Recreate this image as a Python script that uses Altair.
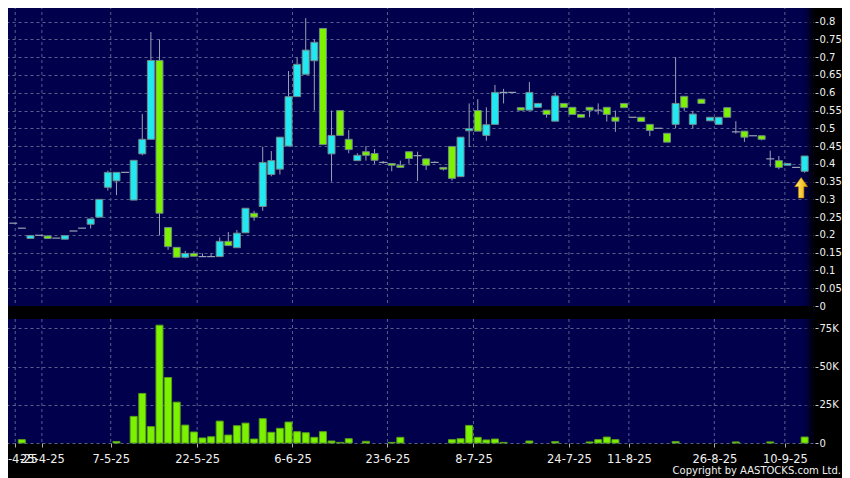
import altair as alt
import pandas as pd

# ---------------- data ----------------
idx = list(range(93))
opens = [0.233, 0.219, 0.190, 0.199, 0.197, 0.191, 0.188, 0.211, 0.219, 0.230,
         0.250, 0.334, 0.352, 0.376, 0.298, 0.428, 0.469, 0.691, 0.221, 0.165,
         0.137, 0.148, 0.139, 0.139, 0.139, 0.182, 0.164, 0.206, 0.261, 0.280,
         0.370, 0.385, 0.450, 0.589, 0.652, 0.690, 0.781, 0.428, 0.550, 0.469,
         0.409, 0.434, 0.429, 0.404, 0.401, 0.396, 0.434, 0.423, 0.414, 0.404,
         0.390, 0.449, 0.364, 0.493, 0.550, 0.480, 0.511, 0.601, 0.601, 0.558,
         0.551, 0.559, 0.551, 0.520, 0.570, 0.559, 0.539, 0.559, 0.551, 0.559,
         0.531, 0.570, 0.531, 0.531, 0.511, 0.500, 0.486, 0.511, 0.590, 0.511,
         0.582, 0.521, 0.511, 0.558, 0.490, 0.492, 0.479, 0.479, 0.414, 0.409,
         0.396, 0.390, 0.379]
closes = [0.233, 0.219, 0.198, 0.199, 0.190, 0.191, 0.198, 0.211, 0.219, 0.245,
          0.300, 0.376, 0.376, 0.376, 0.410, 0.469, 0.691, 0.261, 0.167, 0.137,
          0.148, 0.140, 0.139, 0.139, 0.182, 0.170, 0.205, 0.275, 0.250, 0.404,
          0.409, 0.475, 0.589, 0.680, 0.720, 0.742, 0.454, 0.480, 0.480, 0.440,
          0.424, 0.424, 0.410, 0.404, 0.396, 0.390, 0.415, 0.423, 0.396, 0.404,
          0.385, 0.359, 0.475, 0.499, 0.492, 0.510, 0.601, 0.601, 0.601, 0.551,
          0.601, 0.570, 0.539, 0.591, 0.559, 0.539, 0.531, 0.551, 0.551, 0.539,
          0.520, 0.558, 0.531, 0.519, 0.494, 0.500, 0.461, 0.570, 0.558, 0.540,
          0.570, 0.531, 0.531, 0.531, 0.490, 0.475, 0.479, 0.469, 0.414, 0.390,
          0.401, 0.390, 0.422]
highs = [0.233, 0.219, 0.200, 0.199, 0.199, 0.191, 0.199, 0.211, 0.219, 0.245,
         0.300, 0.381, 0.376, 0.376, 0.410, 0.540, 0.771, 0.750, 0.221, 0.165,
         0.155, 0.154, 0.148, 0.148, 0.193, 0.208, 0.214, 0.275, 0.268, 0.448,
         0.436, 0.475, 0.661, 0.700, 0.810, 0.750, 0.781, 0.550, 0.550, 0.495,
         0.430, 0.450, 0.442, 0.408, 0.401, 0.409, 0.434, 0.434, 0.414, 0.407,
         0.390, 0.449, 0.475, 0.570, 0.582, 0.559, 0.622, 0.611, 0.601, 0.558,
         0.630, 0.570, 0.551, 0.601, 0.570, 0.559, 0.539, 0.559, 0.570, 0.559,
         0.550, 0.570, 0.531, 0.531, 0.511, 0.500, 0.486, 0.700, 0.590, 0.549,
         0.582, 0.531, 0.531, 0.558, 0.520, 0.492, 0.479, 0.479, 0.437, 0.422,
         0.401, 0.390, 0.422]
lows = [0.233, 0.219, 0.189, 0.199, 0.190, 0.191, 0.188, 0.211, 0.219, 0.218,
        0.250, 0.325, 0.312, 0.376, 0.298, 0.424, 0.469, 0.199, 0.158, 0.137,
        0.134, 0.140, 0.139, 0.139, 0.139, 0.170, 0.164, 0.206, 0.240, 0.268,
        0.365, 0.370, 0.450, 0.589, 0.652, 0.550, 0.454, 0.350, 0.480, 0.430,
        0.409, 0.409, 0.400, 0.400, 0.379, 0.390, 0.400, 0.352, 0.383, 0.404,
        0.381, 0.353, 0.364, 0.447, 0.492, 0.465, 0.511, 0.570, 0.601, 0.551,
        0.551, 0.559, 0.530, 0.520, 0.559, 0.539, 0.531, 0.531, 0.539, 0.519,
        0.490, 0.558, 0.531, 0.519, 0.478, 0.500, 0.461, 0.500, 0.549, 0.500,
        0.570, 0.521, 0.511, 0.531, 0.485, 0.462, 0.479, 0.466, 0.392, 0.385,
        0.396, 0.390, 0.375]
volumes = [0, 2200, 0, 0, 0, 0, 0, 0, 0, 0,
           0, 0, 1000, 0, 17400, 32400, 10700, 77000, 42800, 26700,
           11700, 7200, 3300, 4100, 14300, 5200, 11300, 13000, 2600, 15900,
           7000, 9600, 13700, 7400, 6700, 3700, 7400, 1300, 400, 2800,
           0, 1100, 0, 0, 400, 3700, 0, 0, 0, 0,
           0, 2200, 2800, 11500, 3700, 2000, 2600, 400, 0, 0,
           1300, 0, 0, 900, 0, 0, 0, 700, 2200, 3900,
           2200, 0, 0, 0, 0, 0, 0, 900, 0, 0,
           0, 0, 0, 0, 700, 0, 0, 0, 700, 0,
           0, 0, 3900]

date_ticks = [0.23, 3.33, 11.33, 21.38, 32.46, 43.5, 53.5, 64.6, 71.57, 81.5, 89.7]
date_labels = ["24-4-25", "25-4-25", "7-5-25", "22-5-25", "6-6-25", "23-6-25",
               "8-7-25", "24-7-25", "11-8-25", "26-8-25", "10-9-25"]
price_ticks = [0, 0.05, 0.1, 0.15, 0.2, 0.25, 0.3, 0.35, 0.4, 0.45, 0.5,
               0.55, 0.6, 0.65, 0.7, 0.75, 0.8]
vol_ticks = [0, 25000, 50000, 75000]
vol_labels = ["0", "25K", "50K", "75K"]
copyright_text = ["Copyright by AASTOCKS.com Ltd."]

# ---------------- styling ----------------
NAVY = "#00004c"
GRID = "#56608e"
CYAN = "#22e8f2"
GREEN = "#7cf200"
EDGE = "#6f8888"
WICK = "#98a2b4"
TXT = "#f0f0f0"
FONT = "DejaVu Sans"

df = pd.DataFrame({"i": idx, "o": opens, "h": highs, "l": lows, "c": closes, "v": volumes})
df["kind"] = ["up" if c > o else ("down" if c < o else "flat") for o, c in zip(opens, closes)]
ticks_df = pd.DataFrame({"pos": date_ticks, "lab": date_labels})
text_df = pd.DataFrame({"t": copyright_text})

pos_js = "[" + ",".join(str(p) for p in date_ticks) + "]"
lab_js = "[" + ",".join("'" + s + "'" for s in date_labels) + "]"
vpos_js = "[" + ",".join(str(p) for p in vol_ticks) + "]"
vlab_js = "[" + ",".join("'" + s + "'" for s in vol_labels) + "]"

x_scale = alt.Scale(domain=[-0.494, 92.39], nice=False, zero=False)
x_axis = alt.Axis(values=date_ticks, labelExpr=f"{lab_js}[indexof({pos_js}, datum.value)]",
                  grid=False, domain=False, tickSize=4, tickColor="#b0b0b0",
                  labelColor=TXT, labelFontSize=11.5, labelFont=FONT, labelPadding=6,
                  labelOverlap=False, labelFlush=False, title=None)

yaxis_common = dict(orient="right", grid=True, gridColor=GRID, gridDash=[3, 3], gridWidth=1,
                    domain=False, tickSize=3, offset=2, labelPadding=1, tickColor="#c8c8c8",
                    labelColor=TXT, labelFontSize=10, labelFont=FONT,
                    labelOverlap=False, labelFlush=False, title=None)

p_scale = alt.Scale(domain=[0, 0.8441], range=[300, 0], nice=False, zero=False)
p_axis = alt.Axis(values=price_ticks, format="~g", **yaxis_common)

v_scale = alt.Scale(domain=[0, 81060], range=[437, 313], nice=False, zero=False)
v_axis = alt.Axis(values=vol_ticks,
                  labelExpr=f"{vlab_js}[indexof({vpos_js}, datum.value)]", **yaxis_common)

X = alt.X("i:Q", scale=x_scale, axis=x_axis)

# price panel
pgrid = alt.Chart(ticks_df).mark_rule(color=GRID, strokeDash=[3, 3], strokeWidth=1).encode(
    x=alt.X("pos:Q", scale=x_scale, axis=x_axis), y=alt.value(0), y2=alt.value(300))
wick = alt.Chart(df).transform_filter("datum.h > datum.l").mark_rule(
    color=WICK, strokeWidth=1).encode(x=X, y=alt.Y("l:Q", scale=p_scale, axis=p_axis), y2="h:Q")
body = alt.Chart(df).transform_filter("datum.kind != 'flat'").mark_bar(
    size=7, stroke=EDGE, strokeWidth=1).encode(
    x=X, y=alt.Y("o:Q", scale=p_scale, axis=p_axis), y2="c:Q",
    color=alt.Color("kind:N", scale=alt.Scale(domain=["up", "down"], range=[CYAN, GREEN]), legend=None))
flat = alt.Chart(df).transform_filter("datum.kind == 'flat'").transform_calculate(
    xl="datum.i - 0.46", xr="datum.i + 0.46").mark_rule(color=WICK, strokeWidth=1.2).encode(
    x=alt.X("xl:Q", scale=x_scale, axis=x_axis), x2="xr:Q",
    y=alt.Y("o:Q", scale=p_scale, axis=p_axis))
arrow_path = "M0,-1L0.64,-0.1L0.27,-0.1L0.27,1L-0.27,1L-0.27,-0.1L-0.64,-0.1Z"
arrow = alt.Chart(df.tail(1)).mark_point(
    shape=arrow_path, filled=True, size=420, yOffset=15, xOffset=-3.5,
    fill=alt.LinearGradient(gradient="linear", x1=0, x2=1, y1=0, y2=0,
                            stops=[alt.GradientStop(color="#fff07a", offset=0),
                                   alt.GradientStop(color="#f0a800", offset=1)]),
    stroke="#a87400", strokeWidth=0.6, opacity=1).encode(
    x=X, y=alt.Y("l:Q", scale=p_scale, axis=p_axis))
price = alt.layer(pgrid, wick, body, flat, arrow)

# volume panel
vgrid = alt.Chart(ticks_df).mark_rule(color=GRID, strokeDash=[3, 3], strokeWidth=1).encode(
    x=alt.X("pos:Q", scale=x_scale, axis=x_axis), y=alt.value(313), y2=alt.value(437))
vbars = alt.Chart(df).transform_filter("datum.v > 0").mark_bar(
    size=7, fill=GREEN, stroke="#58a018", strokeWidth=1).encode(
    x=X, y=alt.Y("v:Q", scale=v_scale, axis=v_axis))
volume = alt.layer(vgrid, vbars)

# decorations
gap = alt.Chart(text_df).mark_rect(color="#000000").encode(
    x=alt.value(0), x2=alt.value("width"), y=alt.value(300), y2=alt.value(313))
fade = alt.Chart(text_df).mark_rect(
    color=alt.LinearGradient(gradient="linear", x1=0, x2=1, y1=0, y2=0,
                             stops=[alt.GradientStop(color="rgba(0,0,76,0)", offset=0),
                                    alt.GradientStop(color="#000000", offset=1)])).encode(
    x=alt.value(797), x2=alt.value("width"), y=alt.value(0), y2=alt.value("height"))
copy = alt.Chart(text_df).mark_text(align="right", baseline="alphabetic", font=FONT,
                                    fontSize=10, color=TXT).encode(
    text="t:N", x=alt.value(837), y=alt.value(468))

chart = alt.layer(fade, gap, price, volume, copy).resolve_scale(y="independent").properties(
    width=809, height=437,
    autosize=alt.AutoSizeParams(type="none"),
    padding={"left": -4, "top": -2, "right": 29, "bottom": 45},
    background="#000000",
).configure_view(fill=NAVY, stroke="transparent")

chart.save("out.html", embed_options={"renderer": "svg", "actions": False})
